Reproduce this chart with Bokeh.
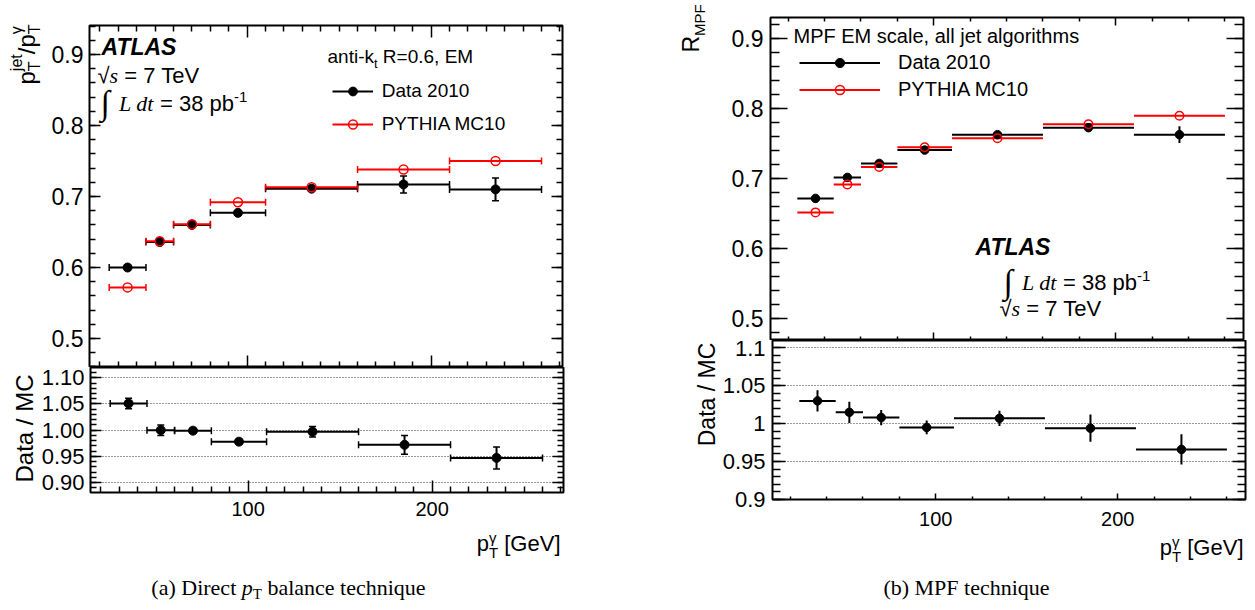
import math
from bokeh.plotting import figure
from bokeh.models import (Range1d, FixedTicker, LinearAxis, Label, Legend, LegendItem,
                          ColumnDataSource, Whisker, TeeHead)
from bokeh.layouts import column, row
from bokeh.embed import file_html
from bokeh.resources import INLINE

# ---------------- data ----------------
pt_lo = [25, 45, 60, 80, 110, 160, 210]
pt_hi = [45, 60, 80, 110, 160, 210, 260]
pt_mid = [35, 52.5, 70, 95, 135, 185, 235]

bal_data = [0.600, 0.636, 0.660, 0.677, 0.711, 0.717, 0.710]
bal_data_err = [0.003, 0.003, 0.002, 0.003, 0.003, 0.012, 0.016]
bal_mc = [0.572, 0.637, 0.661, 0.692, 0.713, 0.738, 0.750]
bal_ratio = [1.051, 1.000, 0.999, 0.978, 0.997, 0.972, 0.947]
bal_ratio_err = [0.010, 0.010, 0.004, 0.004, 0.010, 0.018, 0.021]

mpf_data = [0.672, 0.702, 0.722, 0.741, 0.763, 0.773, 0.763]
mpf_data_err = [0.003, 0.003, 0.003, 0.003, 0.004, 0.006, 0.012]
mpf_mc = [0.652, 0.692, 0.717, 0.745, 0.758, 0.778, 0.790]
mpf_ratio = [1.030, 1.015, 1.008, 0.995, 1.007, 0.994, 0.966]
mpf_ratio_err = [0.014, 0.014, 0.010, 0.009, 0.010, 0.018, 0.020]

x_major = [100, 200]
x_minor_a = [20, 30, 40, 50, 60, 70, 80, 90, 110, 120, 130, 140, 150, 160, 170, 180, 190,
             210, 220, 230, 240, 250, 260, 270]
x_minor_b = [20, 40, 60, 80, 120, 140, 160, 180, 220, 240, 260]
main_major = [0.5, 0.6, 0.7, 0.8, 0.9]
main_labels = ["0.5", "0.6", "0.7", "0.8", "0.9"]
main_minor = [round(0.46 + 0.02 * i, 2) for i in range(25)]
ratio_major = [0.90, 0.95, 1.00, 1.05, 1.10]
ratio_minor = [round(0.88 + 0.01 * i, 2) for i in range(25)]
ratio_labels_a = ["0.90", "0.95", "1.00", "1.05", "1.10"]
ratio_labels_b = ["0.9", "0.95", "1", "1.05", "1.1"]
x_labels = ["100", "200"]

# ---------------- text helpers ----------------
ARIAL = {' ': .278, '=': .584, '.': .278, ',': .278, '-': .333, '/': .278, '[': .278, ']': .278,
         'A': .667, 'C': .722, 'D': .722, 'E': .667, 'F': .611, 'G': .778, 'M': .833, 'P': .667,
         'R': .722, 'T': .611, 'V': .667, 'a': .556, 'b': .556, 'e': .556, 'i': .222, 'j': .222,
         'k': .5, 'n': .556, 'p': .556, 't': .278, 'γ': .5, '√': .549}
TIMES = {' ': .25, '(': .333, ')': .333, 'a': .444, 'b': .5, 'c': .444, 'D': .722, 'i': .278,
         'r': .333, 'e': .444, 't': .278, 'l': .278, 'n': .5, 'h': .5, 'q': .5, 'u': .5,
         'M': .889, 'P': .556, 'F': .556, 'T': .611, '∫': .274}
TIMESI = {' ': .25, 'L': .556, 'd': .5, 't': .278, 's': .389, 'p': .5}
FAMS = {"sans": ("Liberation Sans", "normal", ARIAL),
        "sansbi": ("Liberation Sans", "bold italic", ARIAL),
        "serif": ("Liberation Serif", "normal", TIMES),
        "serifi": ("Liberation Serif", "italic", TIMESI)}
MID = 0.35  # distance of the text middle above the baseline, in em


def tw(text, size, fam):
    tab = FAMS[fam][2]
    return sum(tab.get(ch, 0.556) for ch in text) * size


class Frame:
    def __init__(self, px0, py0, px1, py1, xr, yr):
        self.px0, self.py0, self.px1, self.py1 = px0, py0, px1, py1
        self.xr, self.yr = xr, yr

    def x(self, px):
        return self.xr[0] + (px - self.px0) / (self.px1 - self.px0) * (self.xr[1] - self.xr[0])

    def y(self, py):
        return self.yr[1] - (py - self.py0) / (self.py1 - self.py0) * (self.yr[1] - self.yr[0])


def put(p, fr, px, py, text, size, fam="sans", angle=0.0, align="left"):
    """px, py: anchor in page pixels; py is the vertical middle of the text."""
    font, style, _ = FAMS[fam]
    p.add_layout(Label(x=fr.x(px), y=fr.y(py), text=text, text_font=font,
                       text_font_size=f"{size}px", text_font_style=style, angle=angle,
                       text_align=align, text_baseline="middle", text_color="black"))


def rich(p, fr, px, py, parts, angle=0.0, anchor="left"):
    """px, py: start of the baseline in page pixels."""
    norm = []
    for part in parts:
        text, size, fam = part[0], part[1], part[2]
        dy = part[3] if len(part) > 3 else 0
        adv = part[4] if len(part) > 4 else tw(text, size, fam)
        norm.append((text, size, fam, dy, adv))
    total = sum(n[4] for n in norm)
    pos = {"left": 0.0, "right": -total, "center": -total / 2}[anchor]
    for text, size, fam, dy, adv in norm:
        stripped = text.lstrip(" ")
        lead = tw(text[:len(text) - len(stripped)], size, fam)
        stripped = stripped.rstrip(" ")
        off = pos + lead
        if angle == 0.0:
            put(p, fr, px + off, py - dy - MID * size, stripped, size, fam)
        else:
            w = tw(stripped, size, fam)
            put(p, fr, px - dy - MID * size, py - off - w / 2, stripped, size, fam,
                angle=angle, align="center")
        pos += adv


def text_fig(left, top, w, h):
    p = figure(width=w, height=h, x_range=Range1d(0, w), y_range=Range1d(0, h),
               x_axis_type=None, y_axis_type=None, output_backend="svg", toolbar_location=None,
               min_border=0)
    p.xgrid.visible = False
    p.ygrid.visible = False
    p.outline_line_color = None
    p.background_fill_color = "white"
    p.border_fill_color = "white"
    return p, Frame(left, top, left + w, top + h, (0, w), (0, h))


# ---------------- figure helpers ----------------
def make_panel(fw, fh, xr, yr, ml, mr, mt, mb):
    p = figure(frame_width=fw, frame_height=fh, x_range=Range1d(*xr), y_range=Range1d(*yr),
               output_backend="svg", toolbar_location=None,
               min_border_left=ml, min_border_right=mr, min_border_top=mt, min_border_bottom=mb)
    p.xgrid.visible = False
    p.ygrid.visible = False
    p.outline_line_color = "black"
    p.outline_line_width = 2
    p.background_fill_color = "white"
    p.border_fill_color = "white"
    return p


def style_axis(ax, ticks, minor, tin, tmin, labels=None, size=22, standoff=6):
    ax.ticker = FixedTicker(ticks=ticks, minor_ticks=minor)
    ax.axis_line_color = None
    ax.major_tick_in = tin
    ax.major_tick_out = 0
    ax.minor_tick_in = tmin
    ax.minor_tick_out = 0
    ax.major_tick_line_color = "black"
    ax.minor_tick_line_color = "black"
    ax.major_tick_line_width = 1.5
    ax.minor_tick_line_width = 1.5
    if labels is None:
        ax.major_label_overrides = {t: "" for t in ticks}
        ax.major_label_text_font_size = "1px"
        ax.major_label_standoff = 0
    else:
        ax.major_label_overrides = {t: l for t, l in zip(ticks, labels)}
        ax.major_label_text_font = "Liberation Sans"
        ax.major_label_text_font_size = f"{size}px"
        ax.major_label_text_color = "black"
        ax.major_label_standoff = standoff


def extra_axis(p, place, ticks, minor, tin, tmin):
    ax = LinearAxis()
    style_axis(ax, ticks, minor, tin, tmin)
    p.add_layout(ax, place)


def dotted_grid(p, ticks):
    p.ygrid.visible = True
    p.ygrid.ticker = FixedTicker(ticks=ticks)
    p.ygrid.grid_line_color = "#333333"
    p.ygrid.grid_line_dash = "1 2"
    p.ygrid.grid_line_width = 1


def caps(color, size=7):
    return TeeHead(size=size, line_color=color, line_width=1.5)


def hbars_with_caps(p, src, ykey, color):
    r = p.segment(x0="lo", x1="hi", y0=ykey, y1=ykey, source=src, line_color=color, line_width=2)
    p.add_layout(Whisker(source=src, base=ykey, lower="lo", upper="hi", dimension="width",
                         line_alpha=0, lower_head=caps(color), upper_head=caps(color)))
    return r


def vbars_with_caps(p, src, color):
    p.add_layout(Whisker(source=src, base="x", lower="ylo", upper="yhi", dimension="height",
                         line_color=color, line_width=2, level="underlay",
                         lower_head=caps(color), upper_head=caps(color)))


def band(vals, errs):
    return [v - e for v, e in zip(vals, errs)], [v + e for v, e in zip(vals, errs)]


LUMI = [("∫", 34, "serif", -3, 13), (" L dt", 22, "serifi"), (" = 38 pb", 22, "sans"),
        ("-1", 15, "sans", 9)]
SQRTS = [("√", 22, "sans"), ("s", 22, "serifi"), (" = 7 TeV", 22, "sans")]
XTITLE = [("p", 22, "sans"), ("T", 15, "sans", -6, 0), ("γ", 15, "sans", 9, 9.2), (" [GeV]", 22, "sans")]

# ================= (a) balance technique =================
AX = (14.3, 271.4)
A_TOP_Y = (0.4592, 0.9408)
A_BOT_Y = (0.8809, 1.1197)
frA1 = Frame(89, 25, 562, 367, AX, A_TOP_Y)

pa1 = make_panel(473, 342, AX, A_TOP_Y, 44, 30, 25, 0)
style_axis(pa1.yaxis[0], main_major, main_minor, 11, 6, labels=main_labels, size=23, standoff=6)
style_axis(pa1.xaxis[0], x_major, x_minor_a, 12, 6)
extra_axis(pa1, "above", x_major, x_minor_a, 12, 6)
extra_axis(pa1, "right", main_major, main_minor, 11, 6)

lo, hi = band(bal_data, bal_data_err)
src_bd = ColumnDataSource(dict(x=pt_mid, lo=pt_lo, hi=pt_hi, y=bal_data, ylo=lo, yhi=hi))
src_bm = ColumnDataSource(dict(x=pt_mid, lo=pt_lo, hi=pt_hi, y=bal_mc))
vbars_with_caps(pa1, src_bd, "black")
r_bdh = hbars_with_caps(pa1, src_bd, "y", "black")
r_bmh = hbars_with_caps(pa1, src_bm, "y", "red")
r_bdm = pa1.scatter(x="x", y="y", source=src_bd, size=9, marker="circle", fill_color="black", line_color="black")
r_bmm = pa1.scatter(x="x", y="y", source=src_bm, size=9, marker="circle", fill_color=None, line_color="red", line_width=1.5)

legA = Legend(items=[LegendItem(label="Data 2010", renderers=[r_bdh, r_bdm]),
                     LegendItem(label="PYTHIA MC10", renderers=[r_bmh, r_bmm])],
              location=(242.7, 232.3), orientation="vertical", padding=0, margin=0, spacing=11,
              glyph_width=41, glyph_height=22, label_height=22, label_standoff=9,
              label_text_font="Liberation Sans", label_text_font_size="19px", label_text_color="black",
              background_fill_alpha=0, border_line_alpha=0)
pa1.add_layout(legA)

rich(pa1, frA1, 101, 55, [("ATLAS", 23, "sansbi")])
rich(pa1, frA1, 97, 83, SQRTS)
rich(pa1, frA1, 100, 111, LUMI)
rich(pa1, frA1, 327, 63, [("anti-k", 19, "sans"), ("t", 13, "sans", -5), (" R=0.6, EM", 19, "sans")])

tA1, ftA1 = text_fig(0, 0, 45, 367)
rich(tA1, ftA1, 34, 84, [("p", 24, "sans"), ("T", 16, "sans", -6, 0), ("jet", 16, "sans", 12),
                         ("/p", 24, "sans"), ("T", 16, "sans", -6, 0), ("γ", 16, "sans", 12)],
     angle=math.pi / 2)

pa2 = make_panel(473, 125, AX, A_BOT_Y, 51, 30, 0, 32)
style_axis(pa2.yaxis[0], ratio_major, ratio_minor, 11, 6, labels=ratio_labels_a, size=22, standoff=6)
style_axis(pa2.xaxis[0], x_major, x_minor_a, 12, 6, labels=x_labels, size=20, standoff=9)
extra_axis(pa2, "right", ratio_major, ratio_minor, 11, 6)
dotted_grid(pa2, ratio_major)

lo, hi = band(bal_ratio, bal_ratio_err)
src_br = ColumnDataSource(dict(x=pt_mid, lo=pt_lo, hi=pt_hi, y=bal_ratio, ylo=lo, yhi=hi))
vbars_with_caps(pa2, src_br, "black")
hbars_with_caps(pa2, src_br, "y", "black")
pa2.scatter(x="x", y="y", source=src_br, size=9, marker="circle", fill_color="black", line_color="black")

tA2, ftA2 = text_fig(0, 369, 38, 157)
put(tA2, ftA2, 24, 430, "Data / MC", 24, "sans", angle=math.pi / 2, align="center")

sA, fsA = text_fig(0, 526, 592, 82)
rich(sA, fsA, 560, 553, XTITLE, anchor="right")
rich(sA, fsA, 288, 597, [("(a) Direct ", 22, "serif"), ("p", 22, "serifi"), ("T", 15, "serif", -4),
                         (" balance technique", 22, "serif")], anchor="center")

# ================= (b) MPF technique =================
BX = (10.27, 270.2)
B_TOP_Y = (0.469, 0.9304)
B_BOT_Y = (0.9, 1.1096)
frB1 = Frame(769, 17, 1242, 340, BX, B_TOP_Y)

pb1 = make_panel(473, 323, BX, B_TOP_Y, 51, 5, 17, 0)
style_axis(pb1.yaxis[0], main_major, main_minor, 17, 9, labels=main_labels, size=23, standoff=7)
style_axis(pb1.xaxis[0], x_major, x_minor_b, 8, 4)
extra_axis(pb1, "above", x_major, x_minor_b, 8, 4)
extra_axis(pb1, "right", main_major, main_minor, 17, 9)

lo, hi = band(mpf_data, mpf_data_err)
src_md = ColumnDataSource(dict(x=pt_mid, lo=pt_lo, hi=pt_hi, y=mpf_data, ylo=lo, yhi=hi))
src_mm = ColumnDataSource(dict(x=pt_mid, lo=pt_lo, hi=pt_hi, y=mpf_mc))
pb1.segment(x0="x", x1="x", y0="ylo", y1="yhi", source=src_md, line_color="black", line_width=2)
r_mdh = pb1.segment(x0="lo", x1="hi", y0="y", y1="y", source=src_md, line_color="black", line_width=2)
r_mmh = pb1.segment(x0="lo", x1="hi", y0="y", y1="y", source=src_mm, line_color="red", line_width=2)
r_mdm = pb1.scatter(x="x", y="y", source=src_md, size=8.5, marker="circle", fill_color="black", line_color="black")
r_mmm = pb1.scatter(x="x", y="y", source=src_mm, size=8.5, marker="circle", fill_color=None, line_color="red", line_width=1.5)

legB = Legend(items=[LegendItem(label="Data 2010", renderers=[r_mdh, r_mdm]),
                     LegendItem(label="PYTHIA MC10", renderers=[r_mmh, r_mmm])],
              location=(29, 239.2), orientation="vertical", padding=0, margin=0, spacing=4,
              glyph_width=81, glyph_height=23, label_height=23, label_standoff=18,
              label_text_font="Liberation Sans", label_text_font_size="20px", label_text_color="black",
              background_fill_alpha=0, border_line_alpha=0)
pb1.add_layout(legB)

rich(pb1, frB1, 792, 42, [("MPF EM scale, all jet algorithms", 20, "sans")])
rich(pb1, frB1, 974, 255, [("ATLAS", 23, "sansbi")])
rich(pb1, frB1, 1002, 290, LUMI)
rich(pb1, frB1, 998, 316, SQRTS)

tB1, ftB1 = text_fig(592, 0, 126, 340)
rich(tB1, ftB1, 698, 52, [("R", 23, "sans"), ("MPF", 15, "sans", -5)], angle=math.pi / 2)

pb2 = make_panel(473, 159, BX, B_BOT_Y, 51, 5, 0, 35)
style_axis(pb2.yaxis[0], ratio_major, ratio_minor, 13, 8, labels=ratio_labels_b, size=22, standoff=7)
style_axis(pb2.xaxis[0], x_major, x_minor_b, 6, 3, labels=x_labels, size=20, standoff=12)
extra_axis(pb2, "right", ratio_major, ratio_minor, 13, 8)
dotted_grid(pb2, ratio_major)

lo, hi = band(mpf_ratio, mpf_ratio_err)
src_mr = ColumnDataSource(dict(x=pt_mid, lo=pt_lo, hi=pt_hi, y=mpf_ratio, ylo=lo, yhi=hi))
pb2.segment(x0="x", x1="x", y0="ylo", y1="yhi", source=src_mr, line_color="black", line_width=2)
pb2.segment(x0="lo", x1="hi", y0="y", y1="y", source=src_mr, line_color="black", line_width=2)
pb2.scatter(x="x", y="y", source=src_mr, size=8.5, marker="circle", fill_color="black", line_color="black")

tB2, ftB2 = text_fig(592, 342, 126, 194)
put(tB2, ftB2, 705, 396, "Data / MC", 23, "sans", angle=math.pi / 2, align="center")

sB, fsB = text_fig(592, 536, 655, 72)
rich(sB, fsB, 1242, 557, XTITLE, anchor="right")
rich(sB, fsB, 965, 597, [("(b) MPF technique", 22, "serif")], anchor="center")

# text figures are wrapped in their own column so that Bokeh does not align
# their borders with those of the neighbouring plot
left_col = column(row(column(tA1), pa1, spacing=0), row(column(tA2), pa2, spacing=0), sA, spacing=0)
right_col = column(row(column(tB1), pb1, spacing=0), row(column(tB2), pb2, spacing=0), sB, spacing=0)
layout = row(left_col, right_col, spacing=0)
open("out.html", "w").write(file_html(layout, INLINE, title="ATLAS gamma-jet balance"))
